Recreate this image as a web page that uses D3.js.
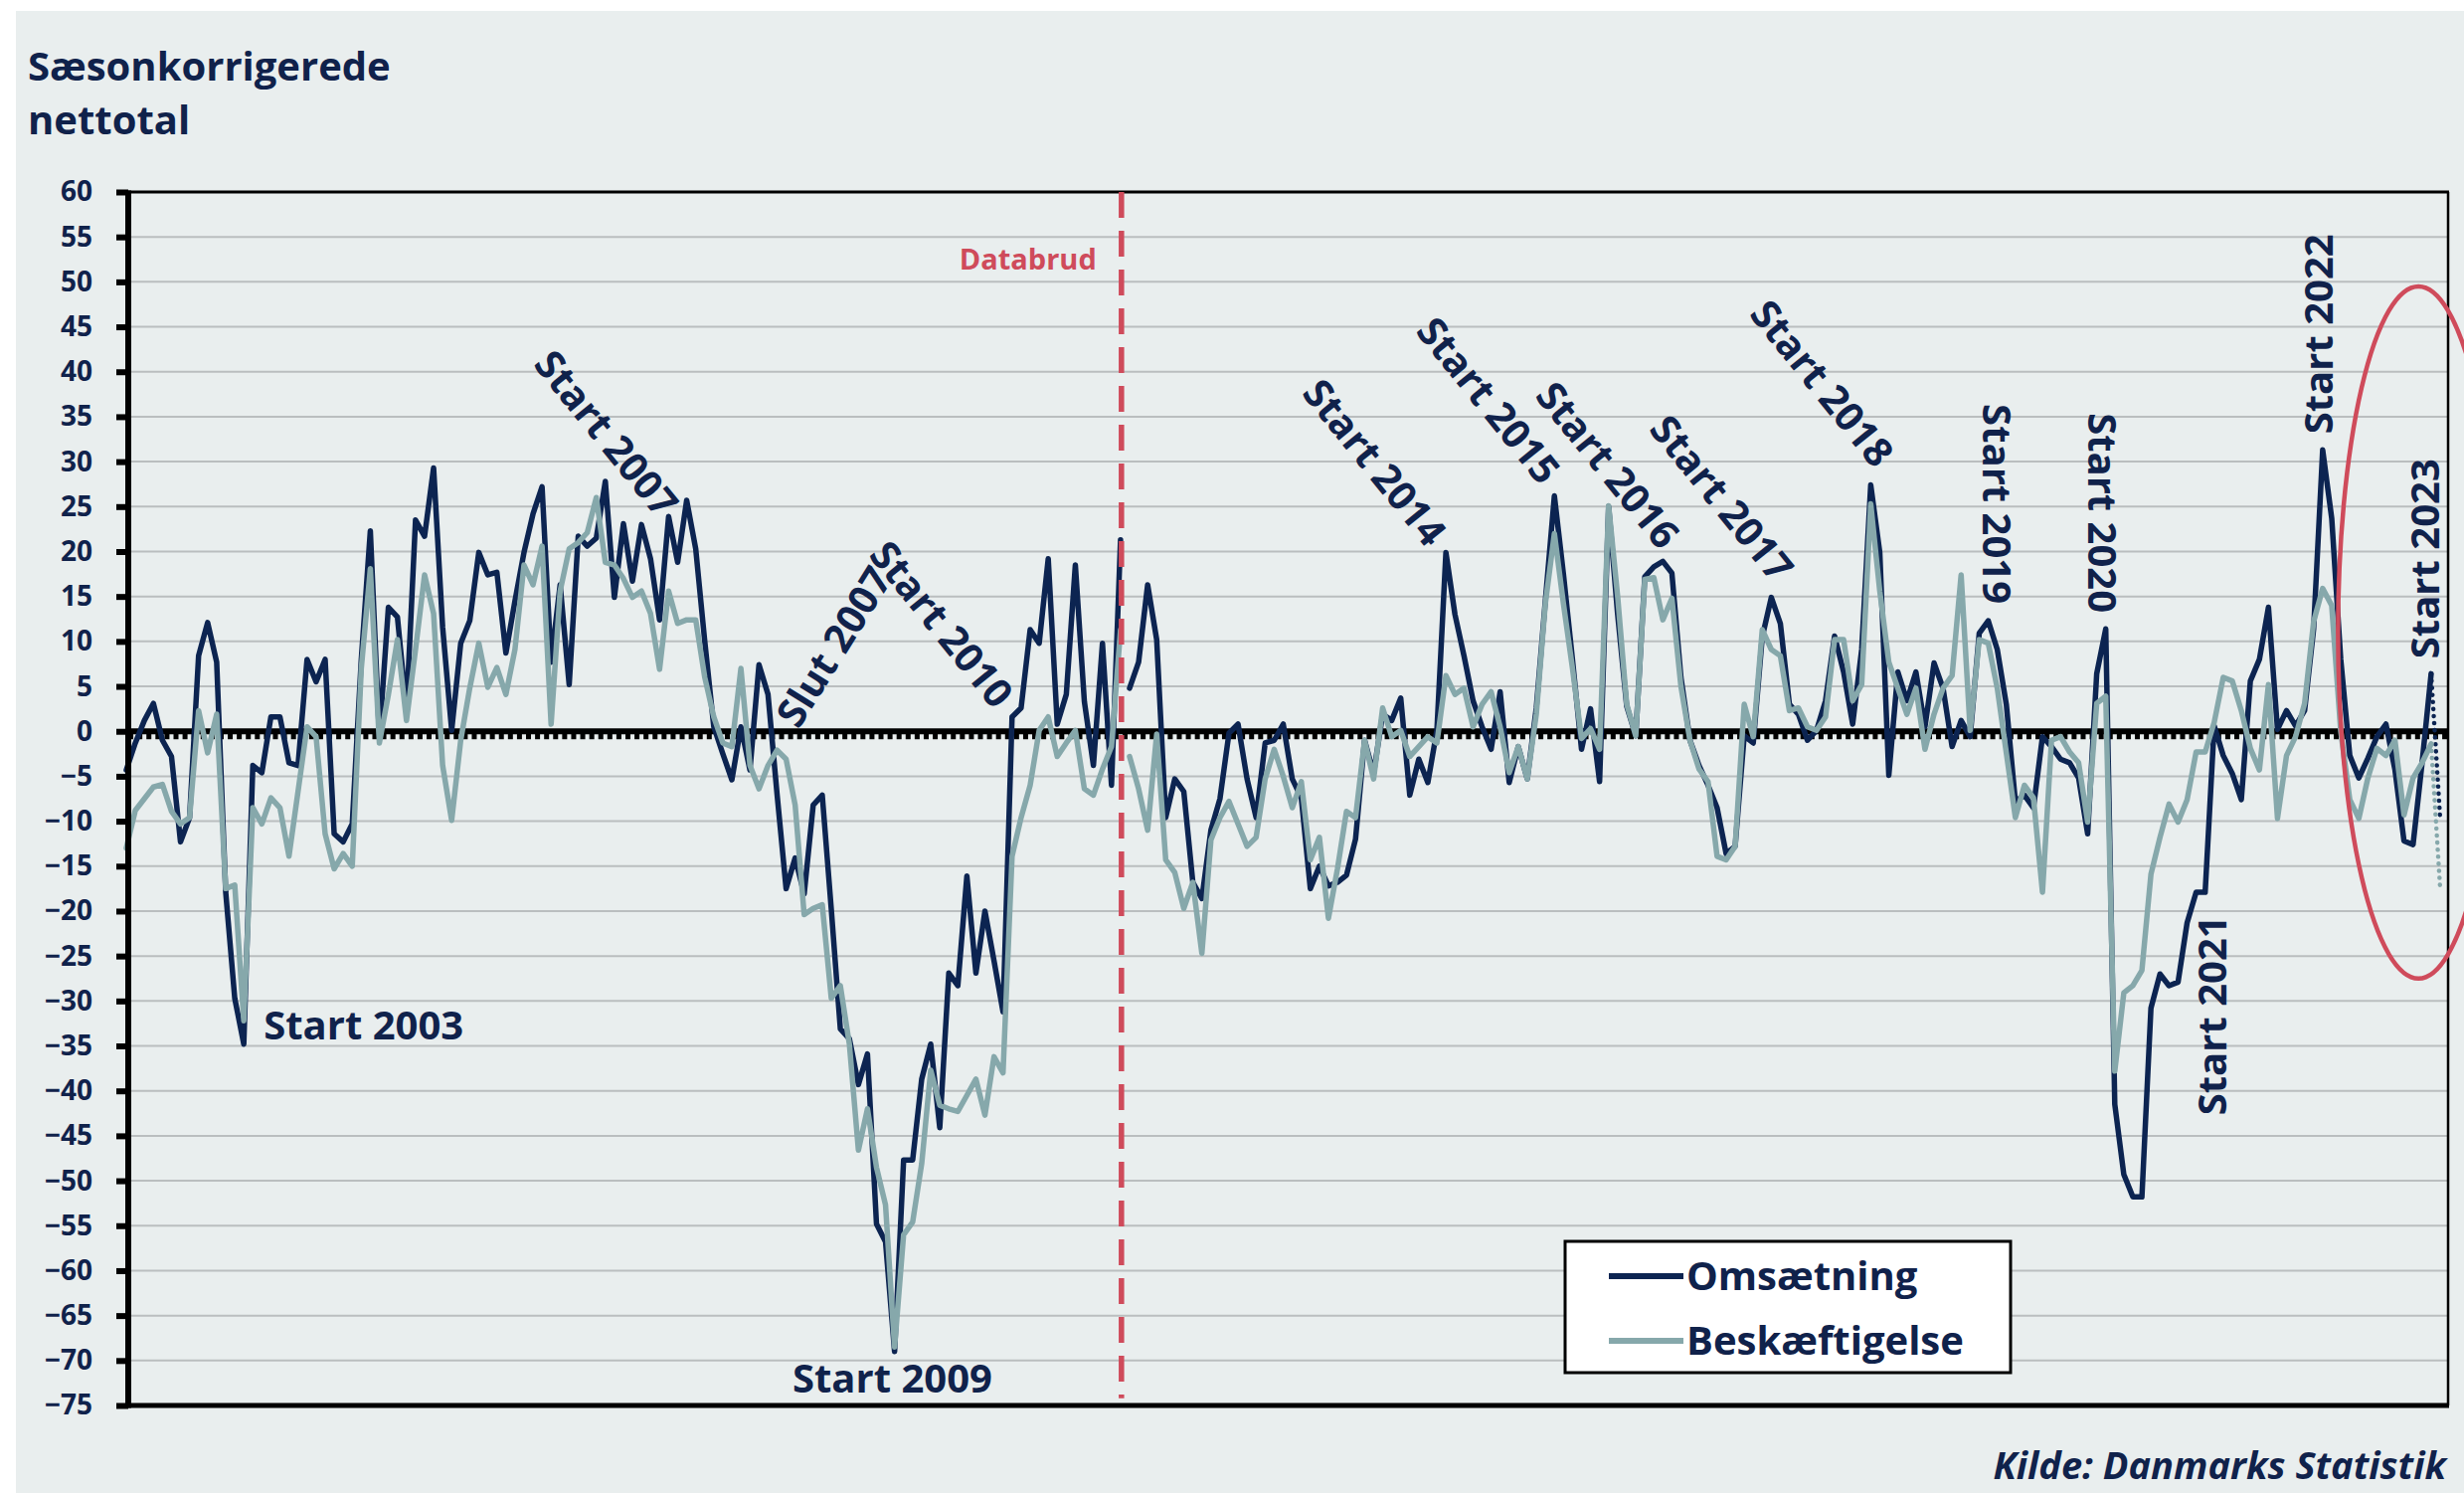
<!DOCTYPE html>
<html lang="da">
<head>
<meta charset="utf-8">
<title>Sæsonkorrigerede nettotal</title>
<script src="https://cdn.jsdelivr.net/npm/d3@7"></script>
<style>
  body { margin: 0; background: #ffffff; }
  svg { display: block; font-family: "Open Sans", sans-serif; }
</style>
</head>
<body>
<div id="chart"></div>
<script>
// månedlige nettotal, første obs. ca. dec. 2001, sidste faktiske obs. ca. apr. 2023
const omsaetning = [
  -4.3, -1.3, 1.2, 3.1, -1.0, -2.8, -12.3, -9.6, 8.4, 12.1,
  7.7, -17.9, -29.7, -34.8, -3.8, -4.6, 1.6, 1.6, -3.5, -3.8,
  8.0, 5.5, 8.0, -11.4, -12.3, -10.3, 8.0, 22.3, -0.6, 13.8,
  12.7, 2.3, 23.5, 21.7, 29.3, 11.6, 0.1, 9.8, 12.3, 19.9,
  17.4, 17.7, 8.7, 14.5, 19.9, 24.2, 27.2, 7.7, 16.3, 5.2,
  21.7, 20.6, 21.5, 27.8, 14.9, 23.1, 16.7, 23.0, 19.2, 12.4,
  23.9, 18.8, 25.7, 20.3, 10.0, 0.5, -2.5, -5.4, 0.5, -4.3,
  7.4, 4.1, -7.0, -17.5, -14.1, -18.1, -8.2, -7.1, -19.8, -33.1,
  -34.2, -39.3, -35.9, -54.8, -56.8, -69.0, -47.7, -47.7, -38.7, -34.8,
  -44.1, -26.9, -28.3, -16.1, -26.9, -20.0, -25.5, -31.2, 1.6, 2.6,
  11.3, 9.8, 19.2, 0.8, 4.1, 18.5, 3.3, -3.8, 9.8, -6.0,
  21.3, 4.8, 7.7, 16.3, 10.2, -9.6, -5.3, -6.7, -16.8, -18.6,
  -11.0, -7.5, -0.2, 0.8, -5.3, -9.6, -1.3, -1.0, 0.8, -5.3,
  -7.4, -17.5, -15.0, -17.2, -16.8, -16.0, -12.0, -1.0, -4.7, 1.9,
  1.2, 3.7, -7.1, -3.1, -5.7, 0.1, 19.9, 13.0, 8.4, 3.4,
  0.5, -2.0, 4.4, -5.7, -1.7, -5.3, 2.6, 14.5, 26.2, 17.5,
  8.0, -2.0, 2.5, -5.6, 25.0, 13.0, 2.8, -0.5, 17.2, 18.3,
  18.9, 17.6, 6.0, -1.0, -3.8, -6.0, -8.5, -13.6, -12.8, -0.5,
  -1.3, 10.5, 14.9, 12.0, 3.0, 1.9, -1.0, 0.1, 3.4, 10.6,
  6.6, 0.8, 9.1, 27.4, 19.9, -4.9, 6.6, 3.4, 6.6, 0.5,
  7.6, 4.8, -1.7, 1.2, -0.6, 10.9, 12.3, 9.1, 3.0, -7.8,
  -7.1, -8.5, -0.6, -1.7, -3.1, -3.5, -5.2, -11.4, 6.4, 11.4,
  -41.5, -49.3, -51.8, -51.8, -30.8, -27.0, -28.3, -27.9, -21.3, -17.9,
  -17.9, 0.6, -2.7, -4.7, -7.6, 5.6, 8.0, 13.8, 0.2, 2.3,
  0.6, 2.3, 11.4, 31.3, 23.7, 8.0, -2.7, -5.2, -3.0, -0.6,
  0.8, -4.3, -12.2, -12.6, -3.5, 6.4
];

const beskaeftigelse = [
  -13.0, -8.8, -7.5, -6.2, -5.9, -8.9, -10.3, -9.6, 2.3, -2.4,
  1.9, -17.5, -17.1, -32.2, -8.5, -10.3, -7.4, -8.5, -13.9, -6.7,
  0.5, -0.6, -11.4, -15.3, -13.6, -15.0, 7.0, 18.1, -1.3, 4.1,
  10.2, 1.2, 9.1, 17.4, 13.1, -3.8, -9.9, -1.0, 4.8, 9.8,
  4.9, 7.1, 4.1, 9.1, 18.5, 16.3, 20.6, 0.8, 15.6, 20.3,
  21.0, 22.1, 26.0, 18.8, 18.5, 17.0, 14.9, 15.6, 13.1, 6.9,
  15.6, 12.0, 12.4, 12.4, 6.0, 1.6, -1.3, -1.7, 7.0, -3.8,
  -6.4, -3.8, -2.1, -3.1, -8.2, -20.4, -19.7, -19.3, -29.7, -28.3,
  -34.8, -46.6, -42.0, -48.5, -52.7, -68.5, -56.0, -54.6, -48.1, -37.7,
  -41.6, -42.0, -42.3, -40.5, -38.7, -42.7, -36.2, -38.0, -13.9, -9.6,
  -6.0, 0.1, 1.6, -2.8, -1.3, 0.1, -6.4, -7.1, -4.2, -1.7,
  11.3, -2.8, -6.4, -11.0, -0.3, -14.3, -15.7, -19.7, -16.8, -24.7,
  -12.1, -9.6, -7.8, -10.3, -12.8, -11.8, -5.3, -2.0, -5.0, -8.5,
  -5.6, -14.3, -11.8, -20.8, -15.3, -8.9, -9.6, -1.0, -5.3, 2.6,
  -0.6, 0.1, -2.8, -1.7, -0.6, -1.3, 6.2, 4.1, 4.8, 0.5,
  3.0, 4.4, 0.5, -4.6, -1.7, -5.3, 1.9, 14.2, 22.0, 14.2,
  7.0, -0.8, 0.3, -2.0, 25.1, 15.0, 3.0, -0.5, 16.9, 17.1,
  12.4, 14.8, 5.0, -1.0, -4.2, -5.6, -13.9, -14.3, -12.8, 3.0,
  -0.6, 11.3, 9.1, 8.4, 2.3, 2.6, 0.5, 0.1, 1.6, 10.2,
  10.2, 3.4, 5.2, 25.3, 15.6, 7.7, 4.8, 1.9, 4.8, -2.0,
  1.9, 4.8, 6.2, 17.4, 0.1, 10.2, 9.8, 4.8, -2.4, -9.6,
  -6.0, -7.4, -17.9, -1.0, -0.6, -2.3, -3.5, -10.1, 3.1, 3.9,
  -37.8, -29.1, -28.3, -26.6, -15.9, -11.8, -8.1, -10.1, -7.6, -2.3,
  -2.3, 1.0, 6.0, 5.6, 2.3, -1.9, -4.3, 5.2, -9.7, -2.7,
  -0.6, 3.1, 12.2, 15.9, 14.0, 0.0, -7.6, -9.7, -5.2, -1.9,
  -2.7, -1.0, -9.3, -5.2, -3.5, -1.4
];

// forventning for næste måned (stiplet)
const omsaetningForventning = [-9.7];
const beskaeftigelseForventning = [-17.5];

// sidste observation før databruddet
const databrudIndex = 110;

const yTicks = d3.range(-75, 61, 5);

const seriesNames = ["Omsætning", "Beskæftigelse"];
const seriesColors = ["#0c2451", "#86a8ab"];

// tekst, månedsindeks, værdi, rotation, anker
const annotations = [
  ["Start 2003", 15.2, -34.3, 0, "start"],
  ["Start 2009", 73.7, -73.6, 0, "start"],
  ["Start 2007", 53.1, 33.1, 51, "middle"],
  ["Slut 2007", 78.3, 9.4, -58, "middle"],
  ["Start 2010", 90.2, 11.9, 51, "middle"],
  ["Start 2014", 138.1, 29.9, 51, "middle"],
  ["Start 2015", 150.7, 36.8, 51, "middle"],
  ["Start 2016", 163.9, 29.6, 51, "middle"],
  ["Start 2017", 176.5, 25.9, 51, "middle"],
  ["Start 2018", 187.6, 38.7, 51, "middle"],
  ["Start 2019", 206.9, 25.3, 90, "middle"],
  ["Start 2020", 218.6, 24.3, 90, "middle"],
  ["Start 2021", 230.8, -31.6, -90, "middle"],
  ["Start 2022", 242.6, 44.2, -90, "middle"],
  ["Start 2023", 254.3, 19.2, -90, "middle"]
];

const width = 2478;
const height = 1501;
const margin = {top: 193, right: 16, bottom: 88, left: 129};
const navy = "#10224b";
const red = "#cf4b5b";

const svg = d3.select("#chart").append("svg")
    .attr("width", width)
    .attr("height", height);

// baggrund
svg.append("rect")
    .attr("x", 16).attr("y", 11)
    .attr("width", width - 16).attr("height", height - 11)
    .attr("fill", "#e9eeee");

const plotRight = width - margin.right;
const plotBottom = height - margin.bottom;

const x = d3.scaleLinear()
    .domain([0, 256])
    .range([127, 127 + 256 * 9.09]);

const y = d3.scaleLinear()
    .domain([-75, 60])
    .range([plotBottom, margin.top]);

// titel
svg.append("text")
    .attr("x", 28).attr("y", 81)
    .attr("fill", navy)
    .style("font-size", "40px").style("font-weight", 700)
    .text("Sæsonkorrigerede");
svg.append("text")
    .attr("x", 28).attr("y", 135)
    .attr("fill", navy)
    .style("font-size", "40px").style("font-weight", 700)
    .text("nettotal");

// gitterlinjer
svg.append("g")
    .selectAll("line")
    .data(yTicks.filter(d => d !== 0 && d !== -75 && d !== 60))
    .join("line")
    .attr("x1", margin.left + 3).attr("x2", plotRight)
    .attr("y1", d => y(d)).attr("y2", d => y(d))
    .attr("stroke", "#babebf")
    .attr("stroke-width", 2);

// ramme top og højre
svg.append("line")
    .attr("x1", margin.left).attr("x2", plotRight + 1)
    .attr("y1", y(60)).attr("y2", y(60))
    .attr("stroke", "#000").attr("stroke-width", 3);
svg.append("line")
    .attr("x1", plotRight).attr("x2", plotRight)
    .attr("y1", y(60)).attr("y2", y(-75))
    .attr("stroke", "#000").attr("stroke-width", 2.5);

// nul-linje med flueben for hver måned
svg.append("line")
    .attr("x1", margin.left).attr("x2", plotRight)
    .attr("y1", y(0)).attr("y2", y(0))
    .attr("stroke", "#000").attr("stroke-width", 6);
svg.append("g")
    .selectAll("rect")
    .data(d3.range(0, 257))
    .join("rect")
    .attr("x", d => x(d + 0.5) - 2.5)
    .attr("y", y(0) + 2)
    .attr("width", 5)
    .attr("height", 6)
    .attr("fill", "#000");

// serier
const line = d3.line()
    .x(d => x(d[0]))
    .y(d => y(d[1]))
    .curve(d3.curveLinear);

function drawSeries(values, forecast, color) {
    let pts = values.map((v, i) => [i, v]);
    let before = pts.slice(0, databrudIndex + 1);
    let after = pts.slice(databrudIndex + 1);
    let g = svg.append("g")
        .attr("fill", "none")
        .attr("stroke", color)
        .attr("stroke-width", 5.5)
        .attr("stroke-linejoin", "round")
        .attr("stroke-linecap", "round");
    g.append("path").attr("d", line(before));
    g.append("path").attr("d", line(after));
    let last = pts[pts.length - 1];
    g.append("path")
        .attr("d", line([last, [last[0] + 1, forecast[0]]]))
        .attr("stroke-width", 4.5)
        .attr("stroke-dasharray", "0.1 7");
}

drawSeries(omsaetning, omsaetningForventning, seriesColors[0]);
drawSeries(beskaeftigelse, beskaeftigelseForventning, seriesColors[1]);

// databrud
svg.append("line")
    .attr("x1", x(databrudIndex + 0.1)).attr("x2", x(databrudIndex + 0.1))
    .attr("y1", y(60)).attr("y2", y(-74.2))
    .attr("stroke", red)
    .attr("stroke-width", 5.5)
    .attr("stroke-dasharray", "26 13");
svg.append("text")
    .attr("x", x(databrudIndex + 0.1) - 25)
    .attr("y", y(51.4))
    .attr("text-anchor", "end")
    .attr("fill", red)
    .style("font-size", "29px").style("font-weight", 700)
    .text("Databrud");

// y-akse
const yAxis = svg.append("g")
    .attr("transform", "translate(" + margin.left + ",0)")
    .call(d3.axisLeft(y).tickValues(yTicks).tickSize(12).tickPadding(24));
yAxis.select(".domain").remove();
yAxis.selectAll(".tick line")
    .attr("stroke", "#000")
    .attr("stroke-width", 6);
yAxis.selectAll(".tick text")
    .attr("fill", navy)
    .style("font-family", "'Open Sans', sans-serif")
    .style("font-size", "28px")
    .style("font-weight", 700);
svg.append("line")
    .attr("x1", margin.left).attr("x2", margin.left)
    .attr("y1", y(60) - 1.5).attr("y2", y(-75) + 2.5)
    .attr("stroke", "#000").attr("stroke-width", 6);
svg.append("line")
    .attr("x1", margin.left - 3).attr("x2", plotRight + 1)
    .attr("y1", y(-75)).attr("y2", y(-75))
    .attr("stroke", "#000").attr("stroke-width", 5);

// annoteringer
svg.append("g")
    .selectAll("text")
    .data(annotations)
    .join("text")
    .attr("transform", d => "translate(" + x(d[1]) + "," + y(d[2]) + ") rotate(" + d[3] + ")")
    .attr("text-anchor", d => d[4])
    .attr("dy", d => d[3] === 0 ? 0 : "0.35em")
    .attr("fill", navy)
    .style("font-size", "40px")
    .style("font-weight", 700)
    .text(d => d[0]);

// rød ring om de seneste måneder
svg.append("ellipse")
    .attr("cx", (x(244.7) + x(262.5)) / 2)
    .attr("cy", y(11))
    .attr("rx", (x(262.5) - x(244.7)) / 2)
    .attr("ry", (y(-27.5) - y(49.5)) / 2)
    .attr("fill", "none")
    .attr("stroke", red)
    .attr("stroke-width", 4.5);

// forklaring
const legend = svg.append("g").attr("transform", "translate(1574,1248)");
legend.append("rect")
    .attr("width", 448).attr("height", 132)
    .attr("fill", "#fff")
    .attr("stroke", "#000").attr("stroke-width", 3);
seriesNames.forEach((name, k) => {
    let ly = 35 + k * 65;
    legend.append("line")
        .attr("x1", 44).attr("x2", 119)
        .attr("y1", ly).attr("y2", ly)
        .attr("stroke", seriesColors[k])
        .attr("stroke-width", 6);
    legend.append("text")
        .attr("x", 122).attr("y", ly + 14)
        .attr("fill", navy)
        .style("font-size", "40px").style("font-weight", 700)
        .text(name);
});

// kilde
svg.append("text")
    .attr("x", 2460).attr("y", 1487)
    .attr("text-anchor", "end")
    .attr("fill", navy)
    .style("font-size", "38px").style("font-weight", 700).style("font-style", "italic")
    .text("Kilde: Danmarks Statistik");
</script>
</body>
</html>
